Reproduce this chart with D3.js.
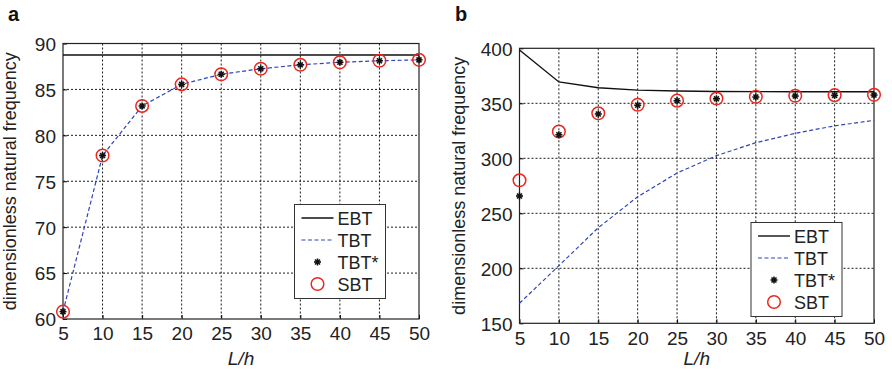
<!DOCTYPE html>
<html>
<head>
<meta charset="utf-8">
<script src="https://cdn.jsdelivr.net/npm/d3@7"></script>
<style>
  body { margin: 0; background: #fff; }
  svg { display: block; font-family: "Liberation Sans", Arial, sans-serif; }
</style>
</head>
<body>
<div id="chart"></div>
<script>
const ratios = [5, 10, 15, 20, 25, 30, 35, 40, 45, 50];

// panel a
const ebtA = [88.75, 88.75, 88.75, 88.75, 88.75, 88.75, 88.75, 88.75, 88.75, 88.75];
const tbtA = [60.8, 77.8, 83.2, 85.55, 86.65, 87.25, 87.68, 87.95, 88.12, 88.22];
const tbtStarA = [60.8, 77.8, 83.2, 85.55, 86.65, 87.25, 87.68, 87.95, 88.12, 88.22];
const sbtA = [60.8, 77.8, 83.2, 85.55, 86.65, 87.25, 87.68, 87.95, 88.12, 88.22];
const yTicksA = [60, 65, 70, 75, 80, 85, 90];

// panel b
const ebtB = [398.5, 369.4, 364.2, 362, 361.2, 360.7, 360.6, 360.5, 360.5, 360.5];
const tbtB = [168.2, 202.4, 236.9, 265, 286.6, 302.4, 314.2, 322.7, 329.5, 334.5];
const tbtStarB = [265.7, 321.4, 340.3, 348.2, 352.3, 354.1, 355.7, 356.6, 357.2, 357.5];
const sbtB = [280, 324.3, 340.9, 348.7, 352.4, 354.3, 355.9, 356.8, 357.4, 357.7];
const yTicksB = [150, 200, 250, 300, 350, 400];

const W = 892, H = 376;
const svg = d3.select("#chart").append("svg").attr("width", W).attr("height", H);

const blue = "#2f45b8";
const red = "#e8281e";
const ink = "#222";

function asterisk(g, x, y, s) {
  const a = g.append("g").attr("transform", `translate(${x},${y})`);
  [0, 45, 90, 135].forEach(ang => {
    const r = ang * Math.PI / 180;
    a.append("line")
      .attr("x1", -s * Math.cos(r)).attr("y1", -s * Math.sin(r))
      .attr("x2", s * Math.cos(r)).attr("y2", s * Math.sin(r))
      .attr("stroke", "#111").attr("stroke-width", 1.6);
  });
  a.append("circle").attr("r", 1.8).attr("fill", "#111");
}

function panel(cfg) {
  const x = d3.scaleLinear().domain([5, 50]).range([cfg.left, cfg.right]);
  const y = d3.scaleLinear().domain(cfg.yDomain).range([cfg.bottom, cfg.top]);
  const g = svg.append("g");

  // grid
  g.selectAll("line.gx").data(ratios.slice(1, -1)).join("line")
    .attr("x1", d => x(d)).attr("x2", d => x(d))
    .attr("y1", cfg.top).attr("y2", cfg.bottom)
    .attr("stroke", "#000").attr("stroke-width", 0.9).attr("stroke-dasharray", "2,2");
  g.selectAll("line.gy").data(cfg.yTicks.slice(1, -1)).join("line")
    .attr("x1", cfg.left).attr("x2", cfg.right)
    .attr("y1", d => y(d)).attr("y2", d => y(d))
    .attr("stroke", "#000").attr("stroke-width", 0.9).attr("stroke-dasharray", "2,2");

  // axes
  const xAxis = g.append("g").attr("transform", `translate(0,${cfg.bottom})`)
    .call(d3.axisBottom(x).tickValues(ratios).tickSizeInner(-4).tickSizeOuter(0).tickPadding(8));
  const yAxis = g.append("g").attr("transform", `translate(${cfg.left},0)`)
    .call(d3.axisLeft(y).tickValues(cfg.yTicks).tickSizeInner(-4).tickSizeOuter(0).tickPadding(7));
  [xAxis, yAxis].forEach(ax => {
    ax.select(".domain").remove();
    ax.selectAll("text").attr("font-size", 19).attr("fill", ink)
      .attr("font-family", "Liberation Sans, Arial, sans-serif");
  });
  yAxis.selectAll("text").attr("dy", "0.36em");

  g.append("rect")
    .attr("x", cfg.left).attr("y", cfg.top)
    .attr("width", cfg.right - cfg.left).attr("height", cfg.bottom - cfg.top)
    .attr("fill", "none").attr("stroke", ink).attr("stroke-width", 1.2);

  // lines
  const line = d3.line().x((d, i) => x(ratios[i])).y(d => y(d));
  g.append("path").datum(cfg.ebt).attr("d", line)
    .attr("fill", "none").attr("stroke", "#111").attr("stroke-width", 1.4);
  g.append("path").datum(cfg.tbt).attr("d", line)
    .attr("fill", "none").attr("stroke", blue).attr("stroke-width", 1.2)
    .attr("stroke-dasharray", "4,2.5");

  cfg.sbt.forEach((v, i) => {
    g.append("circle").attr("cx", x(ratios[i])).attr("cy", y(v)).attr("r", 6.3)
      .attr("fill", "none").attr("stroke", red).attr("stroke-width", 1.5);
  });
  cfg.tbtStar.forEach((v, i) => asterisk(g, x(ratios[i]), y(v), 3.5));

  // labels
  g.append("text").attr("x", cfg.panelX).attr("y", 21)
    .attr("font-size", 20).attr("font-weight", "bold").attr("fill", "#111").text(cfg.name);
  g.append("text")
    .attr("transform", `translate(${cfg.yLabelX},${(cfg.top + cfg.bottom) / 2}) rotate(-90)`)
    .attr("text-anchor", "middle").attr("font-size", 18).attr("fill", ink)
    .text("dimensionless natural frequency");
  g.append("text").attr("x", (cfg.left + cfg.right) / 2).attr("y", 365)
    .attr("text-anchor", "middle").attr("font-size", 19).attr("font-style", "italic")
    .attr("fill", ink).text("L/h");

  // legend
  const L = cfg.legend;
  const lg = g.append("g").attr("transform", `translate(${L.x},${L.y})`);
  lg.append("rect").attr("width", 91).attr("height", 94)
    .attr("fill", "#fff").attr("stroke", "#333").attr("stroke-width", 1);
  const rows = [13.5, 35.5, 57.5, 79.5];
  ["EBT", "TBT", "TBT*", "SBT"].forEach((t, i) => {
    lg.append("text").attr("x", 43).attr("y", rows[i] + 6.5).attr("font-size", 18)
      .attr("fill", ink).text(t);
  });
  lg.append("line").attr("x1", 7).attr("x2", 39).attr("y1", rows[0]).attr("y2", rows[0])
    .attr("stroke", "#111").attr("stroke-width", 1.4);
  lg.append("line").attr("x1", 7).attr("x2", 39).attr("y1", rows[1]).attr("y2", rows[1])
    .attr("stroke", blue).attr("stroke-width", 1.2).attr("stroke-dasharray", "4,2.5");
  asterisk(lg, 23, rows[2], 3.5);
  lg.append("circle").attr("cx", 23).attr("cy", rows[3]).attr("r", 6.3)
    .attr("fill", "none").attr("stroke", red).attr("stroke-width", 1.5);
}

panel({
  name: "a", panelX: 8, yLabelX: 16,
  left: 63, right: 419, top: 43.5, bottom: 319,
  yDomain: [60, 90], yTicks: yTicksA,
  ebt: ebtA, tbt: tbtA, tbtStar: tbtStarA, sbt: sbtA,
  legend: { x: 294.5, y: 204.5 }
});

panel({
  name: "b", panelX: 455, yLabelX: 465,
  left: 519.5, right: 874, top: 48.3, bottom: 323.3,
  yDomain: [150, 400], yTicks: yTicksB,
  ebt: ebtB, tbt: tbtB, tbtStar: tbtStarB, sbt: sbtB,
  legend: { x: 751, y: 222.5 }
});
</script>
</body>
</html>
